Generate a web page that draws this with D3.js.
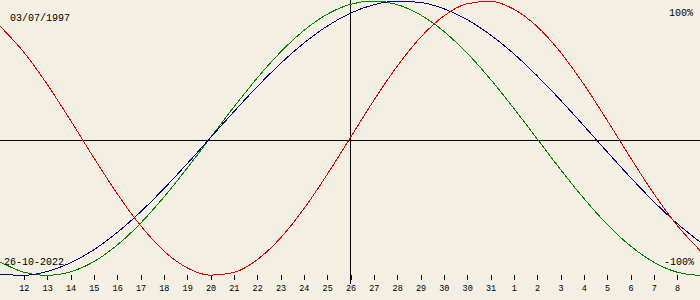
<!DOCTYPE html>
<html>
<head>
<meta charset="utf-8">
<script src="https://cdn.jsdelivr.net/npm/d3@7"></script>
<style>
  html, body { margin: 0; padding: 0; background: #f3efe3; }
  svg { display: block; }
  text { font-family: "Liberation Mono", "DejaVu Sans Mono", monospace; fill: #000; }
</style>
</head>
<body>
<svg id="chart" width="700" height="300"></svg>
<script>
// Days relative to the chart date (26-10-2022), -15 .. +15
const days = d3.range(-15, 16);
// Physical (red), emotional (green), intellectual (blue) values read per day
const physical = [0.8170, 0.6311, 0.3984, 0.1362, -0.1362, -0.3984, -0.6311, -0.8170, -0.9423, -0.9977,
  -0.9791, -0.8879, -0.7308, -0.5196, -0.2698, 0, 0.2698, 0.5196, 0.7308, 0.8879, 0.9791, 0.9977,
  0.9423, 0.8170, 0.6311, 0.3984, 0.1362, -0.1362, -0.3984, -0.6311, -0.8170];
const emotional = [-0.9010, -0.9749, -1, -0.9749, -0.9010, -0.7818, -0.6235, -0.4339, -0.2225, 0,
  0.2225, 0.4339, 0.6235, 0.7818, 0.9010, 0.9749, 1, 0.9749, 0.9010, 0.7818, 0.6235, 0.4339, 0.2225,
  0, -0.2225, -0.4339, -0.6235, -0.7818, -0.9010, -0.9749, -1];
const intellectual = [-0.9898, -0.9989, -0.9718, -0.9096, -0.8146, -0.6901, -0.5406, -0.3717, -0.1893, 0,
  0.1893, 0.3717, 0.5406, 0.6901, 0.8146, 0.9096, 0.9718, 0.9989, 0.9898, 0.9450, 0.8660, 0.7557,
  0.6182, 0.4582, 0.2817, 0.0951, -0.0951, -0.2817, -0.4582, -0.6182, -0.7557];
// Tick days and their labels (note the repeated "30")
const tickDays = d3.range(-14, 15);
const tickLabels = ["12","13","14","15","16","17","18","19","20","21","22","23","24","25","26",
  "27","28","29","30","30","31","1","2","3","4","5","6","7","8"];
const birthLabel = "03/07/1997";
const dateLabel = "26-10-2022";
const topLabel = "100%";
const bottomLabel = "-100%";

const W = 700, H = 300;
const svg = d3.select("#chart");
const x = d3.scaleLinear().domain([-15, 15]).range([0, W]);
const y = d3.scaleLinear().domain([-1, 1]).range([275.5, 1]);

// zero line and today line
svg.append("line").attr("x1", 0).attr("x2", W).attr("y1", 140.5).attr("y2", 140.5)
  .attr("stroke", "#000").attr("stroke-width", 1);
svg.append("line").attr("x1", x(0) + 0.5).attr("x2", x(0) + 0.5).attr("y1", 0).attr("y2", 284)
  .attr("stroke", "#000").attr("stroke-width", 1);

// x axis ticks
const axis = d3.axisBottom(x)
  .tickValues(tickDays)
  .tickSize(5)
  .tickPadding(5)
  .tickFormat((d, i) => tickLabels[i]);
const gAxis = svg.append("g").attr("transform", "translate(0.5,275)").call(axis);
gAxis.select(".domain").remove();
gAxis.selectAll(".tick line").attr("stroke", "#000").attr("shape-rendering", "crispEdges");
gAxis.selectAll(".tick text").attr("font-size", 8.5).attr("font-family", "Liberation Mono, DejaVu Sans Mono").attr("fill", "#000");

// curves
const mk = d3.line().x((d, i) => x(days[i])).y(d => y(d)).curve(d3.curveMonotoneX);
[[emotional, "#008000"], [intellectual, "#000080"], [physical, "#e00000"]].forEach(([s, c]) => {
  svg.append("path").datum(s).attr("d", mk).attr("fill", "none")
    .attr("stroke", c).attr("stroke-width", 1).attr("shape-rendering", "crispEdges");
});

// labels
svg.append("text").attr("x", 10).attr("y", 21).attr("font-size", 10).text(birthLabel);
svg.append("text").attr("x", 693).attr("y", 16).attr("font-size", 10).attr("text-anchor", "end").text(topLabel);
svg.append("text").attr("x", 4).attr("y", 265).attr("font-size", 10).text(dateLabel);
svg.append("text").attr("x", 694).attr("y", 265).attr("font-size", 10).attr("text-anchor", "end").text(bottomLabel);
</script>
</body>
</html>
